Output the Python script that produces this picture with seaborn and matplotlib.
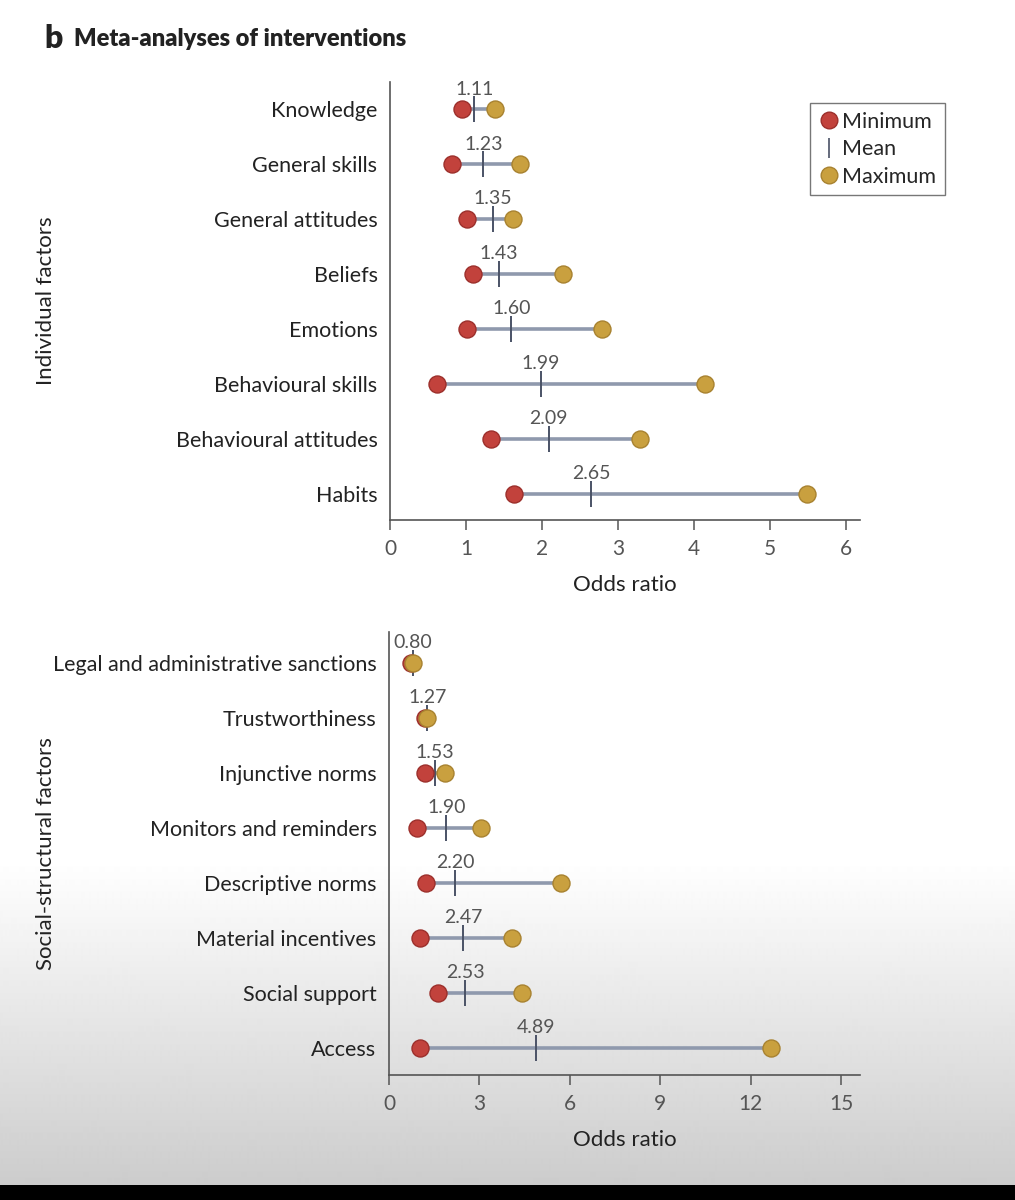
import numpy as np
import pandas as pd
import matplotlib.pyplot as plt
import seaborn as sns
from matplotlib.lines import Line2D

# Individual factors (top panel)
ind_factors = ["Knowledge", "General skills", "General attitudes", "Beliefs",
               "Emotions", "Behavioural skills", "Behavioural attitudes", "Habits"]
ind_min = [0.95, 0.82, 1.02, 1.09, 1.02, 0.62, 1.33, 1.63]
ind_mean = [1.11, 1.23, 1.35, 1.43, 1.60, 1.99, 2.09, 2.65]
ind_max = [1.38, 1.71, 1.62, 2.28, 2.79, 4.15, 3.29, 5.49]

# Social-structural factors (bottom panel)
soc_factors = ["Legal and administrative sanctions", "Trustworthiness", "Injunctive norms",
               "Monitors and reminders", "Descriptive norms", "Material incentives",
               "Social support", "Access"]
soc_min = [0.72, 1.18, 1.18, 0.93, 1.22, 1.02, 1.61, 1.02]
soc_mean = [0.80, 1.27, 1.53, 1.90, 2.20, 2.47, 2.53, 4.89]
soc_max = [0.80, 1.25, 1.87, 3.06, 5.70, 4.09, 4.42, 12.67]

top_ticks = [0, 1, 2, 3, 4, 5, 6]
bottom_ticks = [0, 3, 6, 9, 12, 15]

RED = "#c2423c"
RED_EDGE = "#9c2f2b"
GOLD = "#c9a03f"
GOLD_EDGE = "#a88230"
LINE = "#8f99ad"
TICK = "#4a5266"
TXT = "#222222"
GREY = "#555555"

sns.set_theme(style="white")
plt.rcParams['font.family'] = ['Lato', 'DejaVu Sans']

fig = plt.figure(figsize=(10.15, 12), dpi=100)

# screenshot-like background: grey gradient at the bottom and a black strip
bg = fig.add_axes([0, 0, 1, 1], zorder=-5)
yy = np.arange(1200)
ramp = np.clip((yy - 860) / (1185 - 860), 0, 1)
grad = (1 - 0.2 * ramp)[:, None] * np.ones((1, 2))
grad[1185:] = 0.0
bg.imshow(grad, cmap="gray", vmin=0, vmax=1, aspect="auto", extent=[0, 1, 0, 1],
          interpolation="bilinear")
bg.set_axis_off()


def draw_panel(ax, factors, mins, means, maxs, xlim, ticks, ylim, ylabel):
    df = pd.DataFrame({"factor": factors, "min": mins, "mean": means, "max": maxs})
    df["pos"] = np.arange(len(df))
    ax.set_facecolor("none")
    ax.hlines(df["pos"], df["min"], df["max"], color=LINE, lw=2.6, zorder=1)
    ax.scatter(df["mean"], df["pos"], marker="|", s=360, color=TICK, linewidths=1.4, zorder=2)
    sns.scatterplot(data=df, x="min", y="pos", ax=ax, color=RED, edgecolor=RED_EDGE,
                    linewidth=1.0, s=150, zorder=3, legend=False)
    sns.scatterplot(data=df, x="max", y="pos", ax=ax, color=GOLD, edgecolor=GOLD_EDGE,
                    linewidth=1.0, s=150, zorder=4, legend=False)
    for _, r in df.iterrows():
        ax.annotate(f"{r['mean']:.2f}", (r["mean"], r["pos"]), xytext=(0, 8.5),
                    textcoords="offset points", ha="center", va="bottom",
                    fontsize=14, color=GREY)
    ax.set_xlim(*xlim)
    ax.set_ylim(*ylim)
    ax.set_xticks(ticks)
    ax.set_xticklabels([str(t) for t in ticks])
    ax.set_yticks(df["pos"])
    ax.set_yticklabels(factors)
    ax.tick_params(axis="y", length=0, pad=9, labelsize=15.5, labelcolor=TXT)
    ax.tick_params(axis="x", length=7, width=1.1, color=GREY, direction="out",
                   pad=7, labelsize=15, labelcolor=GREY, bottom=True)
    ax.set_xlabel("Odds ratio", fontsize=16, color=TXT, labelpad=11)
    ax.set_ylabel("")
    sns.despine(ax=ax)
    for s in ("left", "bottom"):
        ax.spines[s].set_color(GREY)
        ax.spines[s].set_linewidth(1.2)
    fig.text(0.045, ax.get_position().y0 + ax.get_position().height / 2, ylabel,
             rotation=90, ha="center", va="center", fontsize=16, color=TXT)


ax1 = fig.add_axes([390 / 1015, 1 - 520 / 1200, 470 / 1015, 438 / 1200])
draw_panel(ax1, ind_factors, ind_min, ind_mean, ind_max, (0, 6.19), top_ticks,
           (7.48, -0.5), "Individual factors")

ax2 = fig.add_axes([389 / 1015, 1 - 1075 / 1200, 471 / 1015, 443 / 1200])
draw_panel(ax2, soc_factors, soc_min, soc_mean, soc_max, (0, 15.62), bottom_ticks,
           (7.5, -0.56), "Social-structural factors")

# legend
handles = [
    Line2D([], [], marker="o", ls="", markersize=12, markerfacecolor=RED,
           markeredgecolor=RED_EDGE, label="Minimum"),
    Line2D([], [], marker="|", ls="", markersize=15, color=TICK, mew=1.2, label="Mean"),
    Line2D([], [], marker="o", ls="", markersize=12, markerfacecolor=GOLD,
           markeredgecolor=GOLD_EDGE, label="Maximum"),
]
leg = fig.legend(handles=handles, loc="upper right", bbox_to_anchor=(945 / 1015, 1 - 103 / 1200),
                 frameon=True, fancybox=False, fontsize=15.5, handletextpad=0.1,
                 handlelength=1.0, borderpad=0.4, labelspacing=0.35, borderaxespad=0)
leg.get_frame().set_edgecolor(GREY)
leg.get_frame().set_linewidth(1.0)

# panel title
fig.text(44 / 1015, 1 - 38 / 1200, "b", fontsize=23, fontweight="heavy", color=TXT,
         va="center", ha="left")
fig.text(74 / 1015, 1 - 39 / 1200, "Meta-analyses of interventions", fontsize=17,
         fontweight="heavy", color=TXT, va="center", ha="left")

fig.savefig("out.png", dpi=100)
